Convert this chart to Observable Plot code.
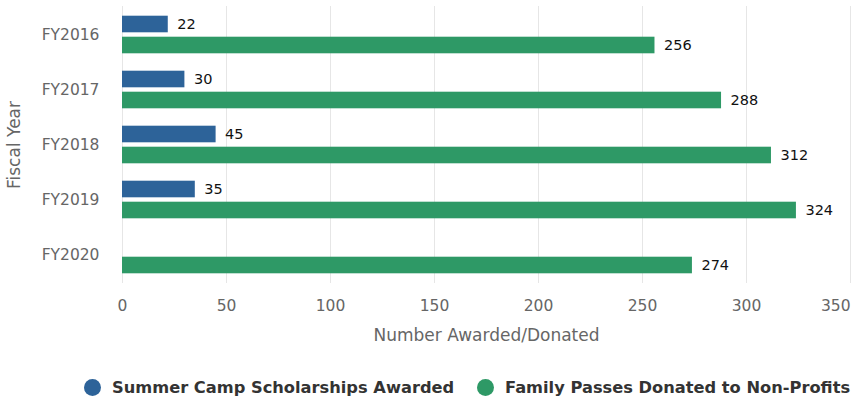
<!DOCTYPE html>
<html>
<head>
<meta charset="utf-8">
<script src="https://cdn.jsdelivr.net/npm/d3@7"></script>
<script src="https://cdn.jsdelivr.net/npm/@observablehq/plot@0.6"></script>
<style>
  html, body { margin: 0; padding: 0; background: #fff; }
  #chart svg { display: block; }
  .legend { position: relative; height: 43px; font-family: "DejaVu Sans", sans-serif; font-weight: bold; font-size: 16.25px; color: #333; }
  .legend .item { position: absolute; top: 18px; display: flex; align-items: center; height: 18px; white-space: nowrap; }
  .legend .dot { width: 17px; height: 17px; border-radius: 50%; margin-right: 11px; flex: none; }
</style>
</head>
<body>
<div id="chart"></div>
<div class="legend" id="legend"></div>
<script>
const years = ["FY2016", "FY2017", "FY2018", "FY2019", "FY2020"];
const scholarships = [22, 30, 45, 35, null];
const passes = [256, 288, 312, 324, 274];
const xTicks = [0, 50, 100, 150, 200, 250, 300, 350];
const seriesNames = ["Summer Camp Scholarships Awarded", "Family Passes Donated to Non-Profits"];
const seriesColors = ["#2d6399", "#2e9966"];

const blueData = years.map((y, i) => ({year: y, value: scholarships[i]})).filter(d => d.value != null);
const greenData = years.map((y, i) => ({year: y, value: passes[i]})).filter(d => d.value != null);
const xMax = xTicks[xTicks.length - 1];

const chart = Plot.plot({
  width: 853,
  height: 360,
  marginLeft: 122,
  marginRight: 3,
  marginTop: 6,
  marginBottom: 77,
  style: {fontFamily: "DejaVu Sans, sans-serif", background: "#fff"},
  x: {domain: [0, xMax]},
  y: {domain: years, padding: 0},
  marks: [
    Plot.gridX(xTicks, {stroke: "#e6e6e6", strokeOpacity: 1}),
    Plot.axisX(xTicks.slice(0, -1), {tickSize: 0, tickPadding: 16, fontSize: 15.5, fill: "#666", label: null}),
    Plot.axisX([xMax], {tickSize: 0, tickPadding: 16, fontSize: 15.5, fill: "#666", label: null, textAnchor: "end"}),
    Plot.axisY({tickSize: 0, tickPadding: 23, fontSize: 15.5, fill: "#666", label: null}),
    Plot.barX(blueData, {x: "value", y: "year", fill: seriesColors[0], insetTop: 8.7, insetBottom: 29.7}),
    Plot.barX(greenData, {x: "value", y: "year", fill: seriesColors[1], insetTop: 29.7, insetBottom: 8.7}),
    Plot.text(blueData, {x: "value", y: "year", text: d => String(d.value), dx: 9, dy: -11, textAnchor: "start", fontSize: 14.5, fill: "#111"}),
    Plot.text(greenData, {x: "value", y: "year", text: d => String(d.value), dx: 9, dy: 10.5, textAnchor: "start", fontSize: 14.5, fill: "#111"}),
    Plot.text(["Number Awarded/Donated"], {frameAnchor: "bottom", dy: 52, textAnchor: "middle", lineAnchor: "middle", fontSize: 17, fill: "#666"}),
    Plot.text(["Fiscal Year"], {frameAnchor: "left", dx: -108, rotate: -90, textAnchor: "middle", lineAnchor: "middle", fontSize: 17, fill: "#666"})
  ]
});
document.getElementById("chart").appendChild(chart);

const legend = document.getElementById("legend");
const lefts = [84, 477];
seriesNames.forEach((name, i) => {
  const item = document.createElement("div");
  item.className = "item";
  item.style.left = lefts[i] + "px";
  const dot = document.createElement("span");
  dot.className = "dot";
  dot.style.background = seriesColors[i];
  const label = document.createElement("span");
  label.textContent = name;
  item.appendChild(dot);
  item.appendChild(label);
  legend.appendChild(item);
});
</script>
</body>
</html>
